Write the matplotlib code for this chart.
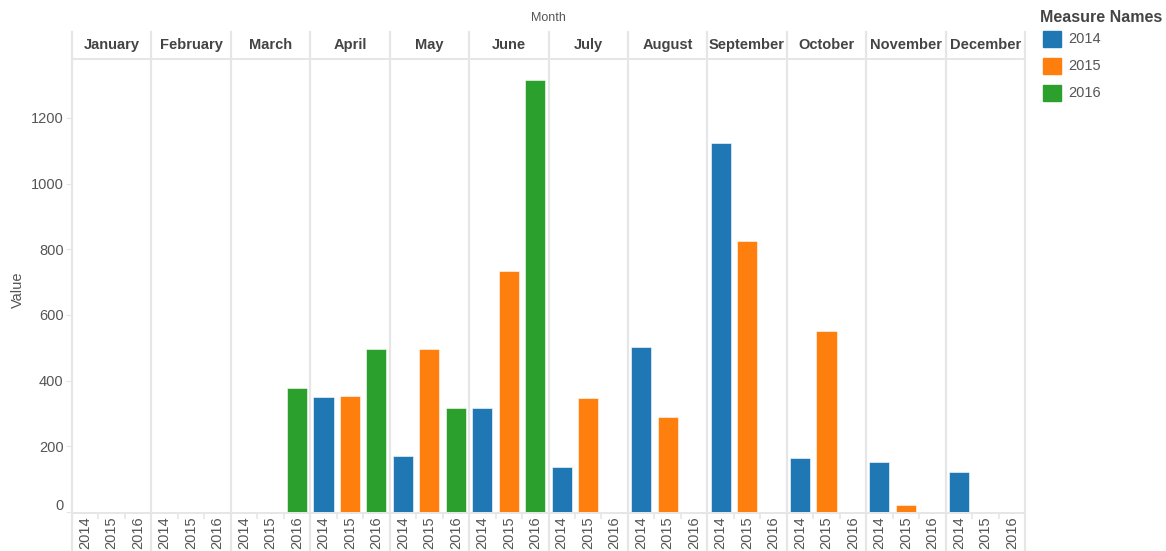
import matplotlib
matplotlib.use("Agg")
import matplotlib.pyplot as plt
from matplotlib.transforms import blended_transform_factory, ScaledTranslation
import numpy as np

months = ["January", "February", "March", "April", "May", "June", "July",
          "August", "September", "October", "November", "December"]
years = ["2014", "2015", "2016"]
v2014 = [0, 0, 0, 350, 170, 317, 137, 502, 1123, 164, 152, 122]
v2015 = [0, 0, 0, 353, 495, 734, 347, 289, 825, 551, 21, 0]
v2016 = [0, 0, 377, 495, 317, 1315, 0, 0, 0, 0, 0, 0]
colors = ["#1f77b4", "#ff7f0e", "#2ca02c"]

W, H = 1166, 551
fig = plt.figure(figsize=(W / 100, H / 100), dpi=100)
plt.rcParams['font.family'] = ['Liberation Sans', 'DejaVu Sans']

L, R, T, B = 72, 1025, 60, 512
ax = fig.add_axes([L / W, 1 - B / H, (R - L) / W, (B - T) / H])
ax.set_xlim(-0.5, 35.5)
ax.set_ylim(0, 1376)

grid_c = "#e6e6e6"
text_c = "#555555"
series = [v2014, v2015, v2016]
for j, vals in enumerate(series):
    xs = [i * 3 + j for i in range(12)]
    ax.bar(xs, vals, width=0.76, color=colors[j], edgecolor="white",
           linewidth=0.4, zorder=3)

for s in ax.spines.values():
    s.set_visible(False)

# separators
tr = blended_transform_factory(ax.transData, fig.transFigure)
for k in range(13):
    x = k * 3 - 0.5
    ax.plot([x, x], [0, 1 - 32 / H], transform=tr, color=grid_c, lw=1.6,
            clip_on=False, zorder=1)
# horizontal lines
trh = blended_transform_factory(ax.transAxes, fig.transFigure)
ax.plot([0, 1], [1 - 59 / H, 1 - 59 / H], transform=trh, color=grid_c, lw=1.4, clip_on=False)
ax.plot([0, 1], [1 - 513 / H, 1 - 513 / H], transform=trh, color=grid_c, lw=1.4, clip_on=False)

# month headers
for i, m in enumerate(months):
    ax.text(i * 3 + 1, 1 - 45 / H, m, transform=tr, ha="center", va="center",
            fontsize=10.5, fontweight="bold", color="#444444")
fig.text(((L + R) / 2) / W, 1 - 18 / H, "Month", ha="center", va="center",
         fontsize=9, color=text_c)

# x ticks
ax.set_xticks(np.arange(36))
ax.set_xticklabels(years * 12, rotation=90, fontsize=10.5, color=text_c)
ax.set_xticks(np.arange(36) - 0.5, minor=True)
ax.tick_params(axis="x", which="major", length=0, pad=3)
ax.tick_params(axis="x", which="minor", length=5, color=grid_c, width=1.2)

# y ticks
ax.set_yticks([0, 200, 400, 600, 800, 1000, 1200])
ax.tick_params(axis="y", length=4, color=grid_c, labelsize=10.5, labelcolor=text_c, pad=2)
zero_lbl = ax.get_yticklabels()[0]
zero_lbl.set_transform(zero_lbl.get_transform() + ScaledTranslation(0, 0.08, fig.dpi_scale_trans))
fig.text(18 / W, 1 - 290 / H, "Value", rotation=90, ha="center", va="center",
         fontsize=10.5, color=text_c)

# legend
fig.text(1040 / W, 1 - 18 / H, "Measure Names", ha="left", va="center",
         fontsize=11.5, fontweight="bold", color="#444444")
for j, y in enumerate(years):
    yc = 39 + j * 27
    fig.patches.append(plt.Rectangle((1043 / W, 1 - (yc + 8) / H), 18 / W, 16 / H,
                                     transform=fig.transFigure, color=colors[j]))
    fig.text(1068 / W, 1 - yc / H, y, ha="left", va="center", fontsize=10.5, color=text_c)

fig.savefig("out.png", dpi=100)
